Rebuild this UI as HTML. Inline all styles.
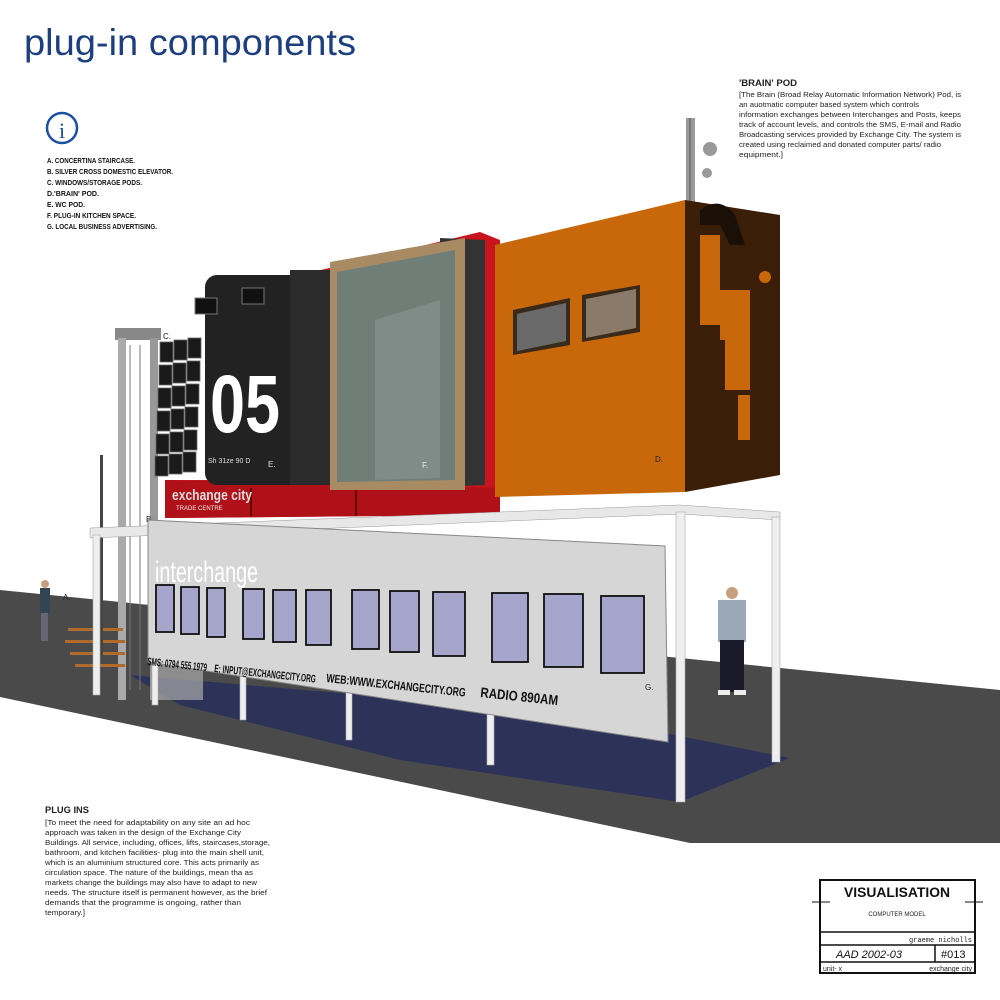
<!DOCTYPE html>
<html><head><meta charset="utf-8"><style>
html,body{margin:0;padding:0;background:#fff;}
svg{display:block}
text{font-family:"Liberation Sans",sans-serif;}
</style></head><body>
<svg width="1000" height="1000" viewBox="0 0 1000 1000" xmlns="http://www.w3.org/2000/svg">
<rect width="1000" height="1000" fill="#fff"/>
<text x="24" y="55" font-size="37" fill="#1d3f7e" textLength="332" lengthAdjust="spacingAndGlyphs">plug-in components</text>
<circle cx="62" cy="128" r="15" fill="none" stroke="#1d4fa0" stroke-width="2.5"/>
<text x="62" y="138" font-size="22" font-family="Liberation Serif" fill="#1d4fa0" text-anchor="middle" style="font-family:'Liberation Serif',serif">i</text>
<g font-size="7" font-weight="bold" fill="#111">
<text x="47" y="163" textLength="88" lengthAdjust="spacingAndGlyphs">A. CONCERTINA STAIRCASE.</text>
<text x="47" y="174" textLength="126" lengthAdjust="spacingAndGlyphs">B. SILVER CROSS DOMESTIC ELEVATOR.</text>
<text x="47" y="185" textLength="95" lengthAdjust="spacingAndGlyphs">C. WINDOWS/STORAGE PODS.</text>
<text x="47" y="196" textLength="52" lengthAdjust="spacingAndGlyphs">D.'BRAIN' POD.</text>
<text x="47" y="207" textLength="38" lengthAdjust="spacingAndGlyphs">E. WC POD.</text>
<text x="47" y="218" textLength="89" lengthAdjust="spacingAndGlyphs">F. PLUG-IN KITCHEN SPACE.</text>
<text x="47" y="229" textLength="110" lengthAdjust="spacingAndGlyphs">G. LOCAL BUSINESS ADVERTISING.</text>
</g>
<g font-size="7.5" fill="#222">
<text x="739" y="86" font-weight="bold" font-size="9" textLength="58" lengthAdjust="spacingAndGlyphs">'BRAIN' POD</text>
<text x="739" y="97" textLength="222" lengthAdjust="spacingAndGlyphs">[The Brain (Broad Relay Automatic Information Network) Pod, is</text>
<text x="739" y="107" textLength="180" lengthAdjust="spacingAndGlyphs">an auotmatic computer based system which controls</text>
<text x="739" y="117" textLength="222" lengthAdjust="spacingAndGlyphs">information exchanges between Interchanges and Posts, keeps</text>
<text x="739" y="127" textLength="222" lengthAdjust="spacingAndGlyphs">track of account levels, and controls the SMS, E-mail and Radio</text>
<text x="739" y="137" textLength="222" lengthAdjust="spacingAndGlyphs">Broadcasting services provided by Exchange City. The system is</text>
<text x="739" y="147" textLength="202" lengthAdjust="spacingAndGlyphs">created using reclaimed and donated computer parts/ radio</text>
<text x="739" y="157" textLength="44" lengthAdjust="spacingAndGlyphs">equipment.]</text>
</g>
<g font-size="7.5" fill="#222">
<text x="45" y="813" font-weight="bold" font-size="9" textLength="44" lengthAdjust="spacingAndGlyphs">PLUG INS</text>
<text x="45" y="825" textLength="205" lengthAdjust="spacingAndGlyphs">[To meet the need for adaptability on any site an ad hoc</text>
<text x="45" y="835" textLength="196" lengthAdjust="spacingAndGlyphs">approach was taken in the design of the Exchange City</text>
<text x="45" y="845" textLength="225" lengthAdjust="spacingAndGlyphs">Buildings. All service, including, offices, lifts, staircases,storage,</text>
<text x="45" y="855" textLength="219" lengthAdjust="spacingAndGlyphs">bathroom, and kitchen facilities- plug into the main shell unit,</text>
<text x="45" y="865" textLength="214" lengthAdjust="spacingAndGlyphs">which is an aluminium structured core. This acts primarily as</text>
<text x="45" y="875" textLength="208" lengthAdjust="spacingAndGlyphs">circulation space. The nature of the buildings, mean tha as</text>
<text x="45" y="885" textLength="212" lengthAdjust="spacingAndGlyphs">markets change the buildings may also have to adapt to new</text>
<text x="45" y="895" textLength="222" lengthAdjust="spacingAndGlyphs">needs. The structure itself is permanent however, as the brief</text>
<text x="45" y="905" textLength="196" lengthAdjust="spacingAndGlyphs">demands that the programme is ongoing, rather than</text>
<text x="45" y="915" textLength="40" lengthAdjust="spacingAndGlyphs">temporary.]</text>
</g>
<!-- ground -->
<polygon points="0,590 780,668 1000,690 1000,843 690,843 0,697" fill="#4a4a4a"/>
<polygon points="130,675 560,712 790,758 680,802 400,760 180,705" fill="#2d3358"/>
<!-- antenna -->
<rect x="686" y="118" width="9" height="85" fill="#9a9a9a"/>
<line x1="690" y1="118" x2="690" y2="203" stroke="#555" stroke-width="1"/>
<circle cx="710" cy="149" r="7" fill="#999"/>
<circle cx="707" cy="173" r="5" fill="#999"/>
<!-- red body -->
<polygon points="300,275 480,232 500,240 500,515 165,518 165,480 300,480" fill="#c8141c"/>
<polygon points="165,480 500,488 500,515 165,518" fill="#b01018"/>
<rect x="250" y="488" width="2" height="28" fill="#600"/>
<rect x="355" y="488" width="2" height="28" fill="#600"/>
<text x="172" y="500" font-size="15" font-weight="bold" fill="#ddd" textLength="80" lengthAdjust="spacingAndGlyphs">exchange city</text>
<text x="176" y="510" font-size="6" fill="#eee">TRADE CENTRE</text>
<!-- elevator tower -->
<rect x="115" y="328" width="46" height="12" fill="#888"/>
<rect x="118" y="338" width="8" height="362" fill="#aaa"/>
<rect x="150" y="338" width="8" height="362" fill="#999"/>
<line x1="130" y1="345" x2="130" y2="690" stroke="#777"/>
<line x1="140" y1="345" x2="140" y2="690" stroke="#777"/>
<rect x="158" y="580" width="45" height="120" fill="#aaa" opacity="0.7"/>
<!-- stairs -->
<g fill="#b06a2a"><rect x="65" y="640" width="60" height="3"/><rect x="70" y="652" width="55" height="3"/><rect x="68" y="628" width="55" height="3"/><rect x="75" y="664" width="50" height="3"/></g>
<rect x="100" y="455" width="3" height="200" fill="#444"/>
<!-- black WC pod -->
<rect x="205" y="275" width="125" height="210" rx="12" fill="#222"/>
<rect x="290" y="270" width="40" height="215" fill="#2c2c2c"/>
<g fill="#111" stroke="#777" stroke-width="1"><rect x="195" y="298" width="22" height="16"/><rect x="242" y="288" width="22" height="16"/></g>
<text x="210" y="432" font-size="82" font-weight="bold" fill="#fff" textLength="70" lengthAdjust="spacingAndGlyphs">05</text>
<text x="208" y="463" font-size="7" fill="#ddd">Sh 31ze 90 D</text>
<text x="268" y="467" font-size="8" fill="#ddd">E.</text>
<!-- C grid -->
<g fill="#1a1a1a" stroke="#666" stroke-width="0.8">
<rect x="160" y="342" width="13" height="20"/><rect x="174" y="340" width="13" height="20"/><rect x="188" y="338" width="13" height="20"/>
<rect x="159" y="365" width="13" height="20"/><rect x="173" y="363" width="13" height="20"/><rect x="187" y="361" width="13" height="20"/>
<rect x="158" y="388" width="13" height="20"/><rect x="172" y="386" width="13" height="20"/><rect x="186" y="384" width="13" height="20"/>
<rect x="157" y="411" width="13" height="20"/><rect x="171" y="409" width="13" height="20"/><rect x="185" y="407" width="13" height="20"/>
<rect x="156" y="434" width="13" height="20"/><rect x="170" y="432" width="13" height="20"/><rect x="184" y="430" width="13" height="20"/>
<rect x="155" y="456" width="13" height="20"/><rect x="169" y="454" width="13" height="20"/><rect x="183" y="452" width="13" height="20"/>
</g>
<text x="163" y="339" font-size="8" fill="#222">C.</text>
<!-- green pod -->
<polygon points="440,238 485,240 485,485 440,487" fill="#333"/>
<polygon points="330,262 465,238 465,490 330,490" fill="#a88b62"/>
<polygon points="337,272 455,250 455,480 337,482" fill="#6f7f78"/>
<polygon points="375,320 440,300 440,478 375,480" fill="#7f8d88"/>
<text x="422" y="468" font-size="8" fill="#eee">F.</text>
<!-- orange pod -->
<polygon points="685,200 780,215 780,475 685,492" fill="#3a1e08"/>
<polygon points="495,245 685,200 685,492 495,497" fill="#c8680a"/>
<g fill="#c8680a"><rect x="700" y="235" width="20" height="90"/><rect x="720" y="290" width="30" height="50"/><rect x="725" y="340" width="25" height="50"/><rect x="738" y="395" width="12" height="45"/></g>
<g fill="#1a1008"><path d="M700,210 q20,-15 35,5 l10,30 -15,0 -10,-20 -20,0z"/></g>
<circle cx="765" cy="277" r="6" fill="#c8680a"/>
<polygon points="513,310 570,298 570,345 513,355" fill="#3a2a1a"/><polygon points="517,314 566,303 566,341 517,351" fill="#6a6a6a"/>
<polygon points="582,295 640,285 640,332 582,342" fill="#3a2a1a"/><polygon points="586,299 636,289 636,328 586,338" fill="#8a7a6a"/>
<text x="655" y="462" font-size="8" fill="#222">D.</text>
<!-- shelter frame -->
<polygon points="90,528 680,505 780,512 780,520 680,514 90,538" fill="#e8e8e8" stroke="#999" stroke-width="0.5"/>
<text x="146" y="522" font-size="8" fill="#222">B.</text>
<g fill="#eee" stroke="#aaa" stroke-width="0.6">
<rect x="93" y="535" width="7" height="160"/>
<rect x="676" y="512" width="9" height="290"/>
<rect x="772" y="517" width="8" height="245"/>
<rect x="152" y="655" width="6" height="50"/>
<rect x="240" y="665" width="6" height="55"/>
<rect x="346" y="680" width="6" height="60"/>
<rect x="487" y="700" width="7" height="65"/>
</g>
<rect x="270" y="545" width="250" height="4" fill="#9a2020"/>
<rect x="500" y="543" width="60" height="5" fill="#1b5e20"/>
<!-- board -->
<polygon points="148,520 665,546 668,742 148,662" fill="#d6d6d6" stroke="#888" stroke-width="1"/>
<text x="155" y="582" font-size="30" fill="#fff" textLength="103" lengthAdjust="spacingAndGlyphs">interchange</text>
<g fill="#a6a6cc" stroke="#111" stroke-width="1.8">
<rect x="156" y="585" width="18" height="47"/><rect x="181" y="587" width="18" height="47"/><rect x="207" y="588" width="18" height="49"/>
<rect x="243" y="589" width="21" height="50"/><rect x="273" y="590" width="23" height="52"/><rect x="306" y="590" width="25" height="55"/>
<rect x="352" y="590" width="27" height="59"/><rect x="390" y="591" width="29" height="61"/><rect x="433" y="592" width="32" height="64"/>
<rect x="492" y="593" width="36" height="69"/><rect x="544" y="594" width="39" height="73"/><rect x="601" y="596" width="43" height="77"/>
</g>
<g font-weight="bold" fill="#111">
<text x="147" y="665" font-size="11" transform="rotate(6 147 665)" textLength="60" lengthAdjust="spacingAndGlyphs">SMS: 0794 555 1979</text>
<text x="214" y="672" font-size="11" transform="rotate(6 214 672)" textLength="102" lengthAdjust="spacingAndGlyphs">E: INPUT@EXCHANGECITY.ORG</text>
<text x="326" y="682" font-size="12" transform="rotate(6 326 682)" textLength="140" lengthAdjust="spacingAndGlyphs">WEB:WWW.EXCHANGECITY.ORG</text>
<text x="480" y="697" font-size="14" transform="rotate(6 480 697)" textLength="78" lengthAdjust="spacingAndGlyphs">RADIO 890AM</text>
</g>
<text x="645" y="690" font-size="8" fill="#222">G.</text>
<!-- people -->
<g fill="#345"><rect x="40" y="588" width="10" height="26"/><rect x="41" y="613" width="7" height="28" fill="#667"/></g>
<circle cx="45" cy="584" r="4" fill="#c8a080"/>
<text x="63" y="600" font-size="8" fill="#222">A.</text>
<circle cx="732" cy="593" r="6" fill="#c8a080"/>
<rect x="718" y="600" width="28" height="42" fill="#9aa8b8"/>
<rect x="720" y="640" width="24" height="52" fill="#1a1a2a"/>
<rect x="718" y="690" width="12" height="5" fill="#eee"/><rect x="734" y="690" width="12" height="5" fill="#eee"/>
<!-- title block -->
<g stroke="#111" fill="none">
<rect x="820" y="880" width="155" height="93" stroke-width="2"/>
<line x1="820" y1="932" x2="975" y2="932" stroke-width="1.5"/>
<line x1="820" y1="945" x2="975" y2="945" stroke-width="1.5"/>
<line x1="820" y1="962" x2="975" y2="962" stroke-width="1.5"/>
<line x1="935" y1="945" x2="935" y2="962" stroke-width="1.5"/>
<line x1="812" y1="902" x2="830" y2="902"/><line x1="965" y1="902" x2="983" y2="902"/>
</g>
<text x="897" y="897" font-size="14" font-weight="bold" text-anchor="middle" fill="#111" textLength="106" lengthAdjust="spacingAndGlyphs">VISUALISATION</text>
<text x="897" y="916" font-size="6" text-anchor="middle" fill="#222">COMPUTER MODEL</text>
<text x="972" y="942" font-size="7" text-anchor="end" fill="#222" style="font-family:'Liberation Mono',monospace">graeme nicholls</text>
<text x="836" y="958" font-size="11" font-style="italic" fill="#111">AAD 2002-03</text>
<text x="941" y="958" font-size="11" fill="#111">#013</text>
<text x="823" y="971" font-size="7" fill="#222">unit- x</text>
<text x="972" y="971" font-size="7" text-anchor="end" fill="#222">exchange city</text>
</svg>
</body></html>
